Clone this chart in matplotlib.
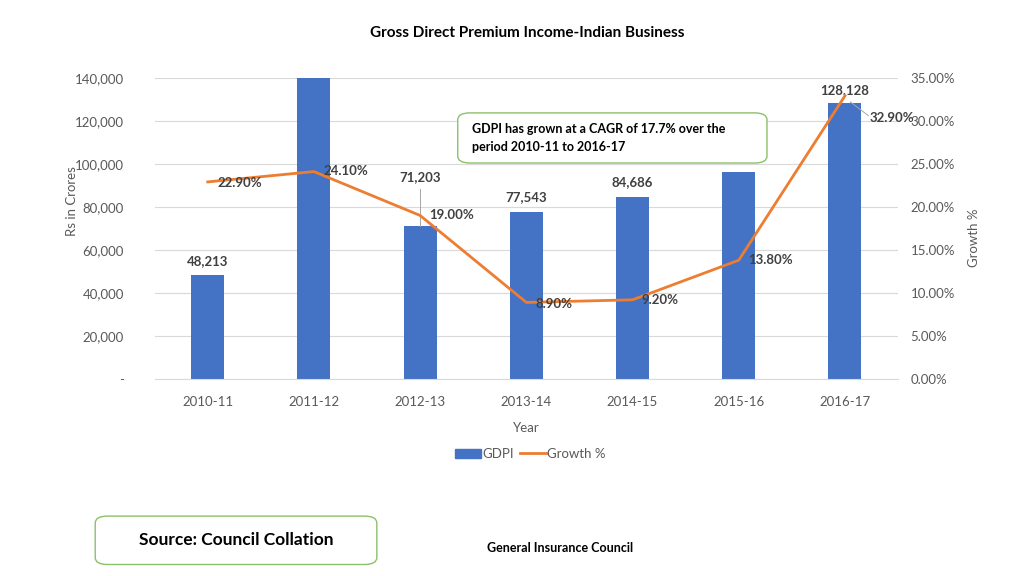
"""
Gross Direct Premium Income - Indian Business (bar + growth line).
"""
import matplotlib.pyplot as plt
from matplotlib.patches import FancyBboxPatch
from matplotlib.ticker import FuncFormatter

plt.rcParams["font.family"] = ["Lato", "DejaVu Sans"]

years = ["2010-11", "2011-12", "2012-13", "2013-14", "2014-15", "2015-16", "2016-17"]
gdpi = [48213, 145000, 71203, 77543, 84686, 96300, 128128]
growth = [22.9, 24.1, 19.0, 8.9, 9.2, 13.8, 32.9]
gdpi_labels = ["48,213", None, "71,203", "77,543", "84,686", None, "128,128"]

BLUE = "#4472c4"
ORANGE = "#ed7d31"
GREEN = "#8cc06a"
GRAY = "#595959"

fig = plt.figure(figsize=(10.24, 5.76), dpi=100)
ax = fig.add_axes([0.151, 0.342, 0.726, 0.523])
ax2 = ax.twinx()

x = list(range(len(years)))
ax.bar(x, gdpi, width=0.31, color=BLUE, zorder=2)
ax.set_xlim(-0.5, len(years) - 0.5)
ax.set_ylim(0, 140000)
ax.set_yticks(range(0, 140001, 20000))
ax.yaxis.set_major_formatter(FuncFormatter(lambda v, p: "-" if v == 0 else f"{int(v):,}"))
ax.grid(axis="y", color="#d9d9d9", linewidth=0.8, zorder=0)
ax.set_axisbelow(True)
ax.set_xticks(x)
ax.set_xticklabels(years)
for a in (ax, ax2):
    for s in a.spines.values():
        s.set_visible(False)
    a.tick_params(length=0, colors=GRAY, labelsize=9.5)
ax.spines["bottom"].set_visible(True)
ax.spines["bottom"].set_color("#d9d9d9")
ax.tick_params(axis="x", pad=12)
ax.tick_params(axis="y", pad=22)
ax.set_xlabel("Year", color=GRAY, fontsize=9.5, labelpad=10)
ax.set_ylabel("Rs in Crores", color=GRAY, fontsize=9.5)
ax.yaxis.set_label_coords(-0.103, 0.59)

ax2.plot(x, growth, color=ORANGE, linewidth=2, zorder=3)
ax2.set_ylim(0, 35)
ax2.set_yticks(range(0, 36, 5))
ax2.yaxis.set_major_formatter(FuncFormatter(lambda v, p: f"{v:.2f}%"))
ax2.tick_params(axis="y", pad=9)
ax2.set_ylabel("Growth %", color=GRAY, fontsize=9.5)
ax2.yaxis.set_label_coords(1.094, 0.47)

# bar labels
for i, lab in enumerate(gdpi_labels):
    if lab is None:
        continue
    ytxt = gdpi[i] + 4000
    if i == 2:
        ytxt = 91000
        ax.plot([i, i], [gdpi[i], ytxt - 2500], color="#a6a6a6", lw=0.7, zorder=2)
    if i == 6:
        ytxt = gdpi[i] + 3500
    ax.text(i, ytxt, lab, ha="center", va="bottom", fontsize=9.5,
            fontweight="bold", color="#404040", zorder=5)

# growth labels
offs = [(0.3, -0.1), (0.3, 0.1), (0.3, 0.0), (0.26, -0.2), (0.26, 0.0), (0.3, 0.0), (0.44, -2.6)]
for i, g in enumerate(growth):
    dx, dy = offs[i]
    ax2.text(i + dx, g + dy, f"{g:.2f}%", ha="center", va="center", fontsize=9.5,
             fontweight="bold", color="#404040", zorder=5)
ax2.plot([6.05, 6.22], [32.2, 30.6], color="#a6a6a6", lw=0.7)

# CAGR callout
box = FancyBboxPatch((0.447, 0.717), 0.302, 0.087, boxstyle="round,pad=0,rounding_size=0.012",
                     transform=fig.transFigure, facecolor="white", edgecolor=GREEN,
                     linewidth=1.0, zorder=10)
fig.patches.append(box)
fig.text(0.461, 0.761, "GDPI has grown at a CAGR of 17.7% over the\nperiod 2010-11 to 2016-17",
         ha="left", va="center", fontsize=9, fontweight="bold", color="black",
         linespacing=1.6, zorder=11)

# legend
h1 = plt.Rectangle((0, 0), 1, 1, color=BLUE)
h2 = plt.Line2D([0], [0], color=ORANGE, lw=2)
fig.legend([h1, h2], ["GDPI", "Growth %"], loc="center", bbox_to_anchor=(0.518, 0.212),
           ncol=2, frameon=False, fontsize=9.5, labelcolor=GRAY, handlelength=2.0,
           handletextpad=0.1, columnspacing=0.4)

fig.text(0.515, 0.942, "Gross Direct Premium Income-Indian Business", ha="center",
         va="center", fontsize=11, fontweight="bold")

src = FancyBboxPatch((0.093, 0.020), 0.275, 0.084, boxstyle="round,pad=0,rounding_size=0.012",
                     transform=fig.transFigure, facecolor="white", edgecolor=GREEN,
                     linewidth=1.0)
fig.patches.append(src)
fig.text(0.231, 0.062, "Source: Council Collation", ha="center", va="center",
         fontsize=12.5, fontweight="bold")
fig.text(0.547, 0.048, "General Insurance Council", ha="center", va="center",
         fontsize=9, fontweight="bold")

fig.savefig("out.png", dpi=100)
